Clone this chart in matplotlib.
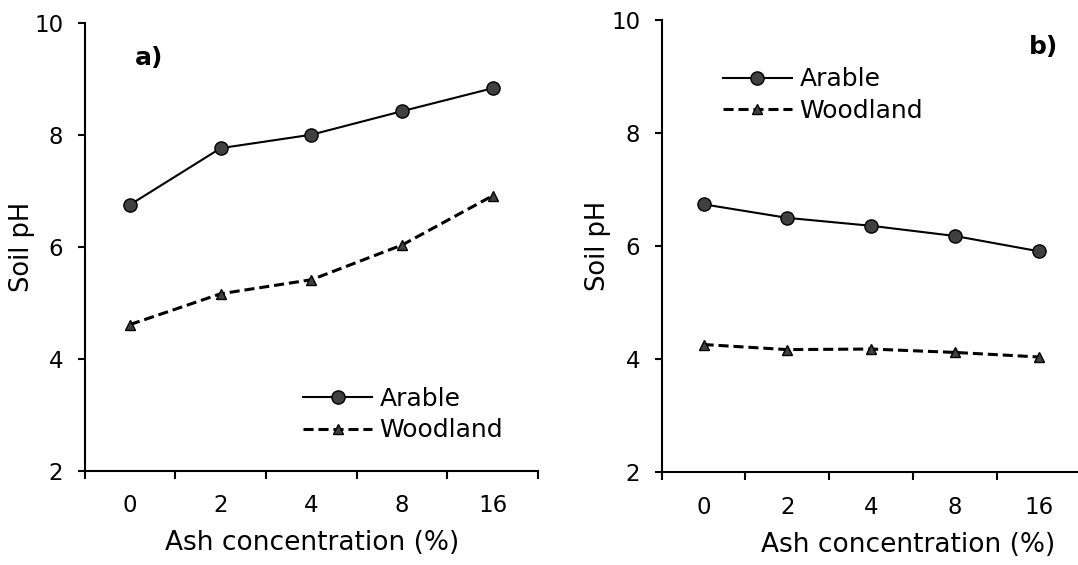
import numpy as np
import matplotlib
matplotlib.use("Agg")
import matplotlib.pyplot as plt

# Ash concentration levels (categorical x axis)
ash_levels = ["0", "2", "4", "8", "16"]

# Panel a) soil pH
arable_a = [6.75, 7.76, 8.00, 8.42, 8.83]
woodland_a = [4.61, 5.16, 5.41, 6.03, 6.91]

# Panel b) soil pH
arable_b = [6.74, 6.50, 6.36, 6.18, 5.91]
woodland_b = [4.26, 4.17, 4.18, 4.12, 4.04]

plt.rcParams['font.family'] = ['DejaVu Sans']

fig = plt.figure(figsize=(10.78, 5.65), dpi=100)
ax1 = fig.add_axes([0.0786, 0.1669, 0.4205, 0.7929])
ax2 = fig.add_axes([0.6138, 0.1641, 0.3885, 0.8005])


def draw_panel(ax, arable, woodland, tag, tag_xy, leg_anchor, xlab_xy, ylab_x):
    x = np.arange(len(ash_levels)) + 0.5
    ax.plot(x, arable, '-', color='black', lw=1.5, marker='o', ms=9.5,
            mfc='#404040', mec='black', mew=1.0, label='Arable')
    ax.plot(x, woodland, color='black', lw=2.2, dashes=(3.3, 1.6),
            marker='^', ms=7.5, mfc='#404040', mec='black', mew=1.0,
            label='Woodland')
    ax.set_xlim(0, len(ash_levels))
    ax.set_ylim(2, 10)
    ax.set_yticks([2, 4, 6, 8, 10])
    # tick marks between categories, labels at category centres
    ax.set_xticks(np.arange(len(ash_levels) + 1))
    ax.set_xticklabels([])
    ax.set_xticks(x, minor=True)
    ax.set_xticklabels(ash_levels, minor=True, fontsize=16.5)
    ax.tick_params(axis='x', which='minor', length=0, pad=17)
    ax.tick_params(axis='both', which='major', direction='out', length=5.4,
                   width=1.5, color='black', labelsize=16.5)
    ax.tick_params(axis='y', pad=10)
    for s in ['top', 'right']:
        ax.spines[s].set_visible(False)
    for s in ['left', 'bottom']:
        ax.spines[s].set_linewidth(1.5)
    ax.set_ylabel("Soil pH", fontsize=18.5, va='center')
    ax.set_xlabel("Ash concentration (%)", fontsize=19, va='center')
    ax.xaxis.set_label_coords(*xlab_xy)
    ax.yaxis.set_label_coords(ylab_x, 0.5)
    ax.text(tag_xy[0], tag_xy[1], tag, transform=ax.transAxes,
            fontsize=18, fontweight='bold', ha='left', va='center')
    ax.legend(loc='center left', bbox_to_anchor=leg_anchor, frameon=False,
              handlelength=2.76, handletextpad=0.3, labelspacing=0.3,
              borderpad=0, borderaxespad=0, fontsize=18)


draw_panel(ax1, arable_a, woodland_a, "a)", (0.111, 0.921), (0.4816, 0.1254),
           (0.501, -0.161), -0.138)
draw_panel(ax2, arable_b, woodland_b, "b)", (0.877, 0.940), (0.1464, 0.834),
           (0.588, -0.161), -0.152)

fig.savefig("out.png", dpi=100)
